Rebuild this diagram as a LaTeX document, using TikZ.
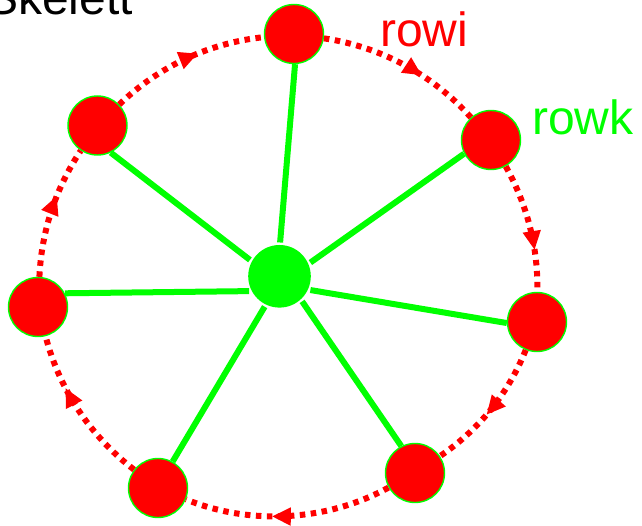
\documentclass[tikz,border=0pt]{standalone}
\usepackage{fontspec}
\setmainfont{Liberation Sans}
\usetikzlibrary{arrows.meta,decorations.markings}
\definecolor{pr}{RGB}{255,0,0}
\definecolor{pg}{RGB}{0,255,0}
\begin{document}
\begin{tikzpicture}[x=1pt,y=1pt,
 outer/.style={circle,fill=pr,draw=pg,line width=1.4pt,minimum size=59pt,inner sep=0pt},
 hub/.style={circle,fill=pg,minimum size=62.6pt,inner sep=0pt,outer sep=2.5pt},
 spoke/.style={draw=pg,line width=6pt},
 ring/.style={draw=pr,line width=6pt,dash pattern=on 5.5pt off 5.5pt,looseness=0.88,postaction={decorate},
   decoration={markings,mark=at position #1 with {\arrow[pr]{Triangle[length=19pt,width=17pt]}}}},
 ring/.default=0.6,
 lbl/.style={anchor=base west,inner sep=0pt,font=\fontsize{48}{48}\selectfont}]
\useasboundingbox (0,0) rectangle (642,-526);
\node[outer] (t) at (294,-34) {};
\node[outer] (ur) at (491,-140) {};
\node[outer] (r) at (537,-322) {};
\node[outer] (lr) at (415,-473) {};
\node[outer] (bl) at (158,-488) {};
\node[outer] (l) at (38,-307) {};
\node[outer] (ul) at (97.5,-125.5) {};
\node[hub] (c) at (279.5,-276.3) {};
\draw[ring=0.62] (t) to[bend left=20] (ur);
\draw[ring=0.68] (ur) to[bend left=15] (r);
\draw[ring=0.55] (r) to[bend left=17] (lr);
\draw[ring=0.58] (lr) to[bend left=25.5] (bl);
\draw[ring=0.66] (bl) to[bend left=19] (l);
\draw[ring=0.62] (l) to[bend left=15.5] (ul);
\draw[ring=0.58] (ul) to[bend left=19] (t);
\draw[spoke] (c.89) -- (t.272);
\draw[spoke] (c.151) -- (ul.296);
\draw[spoke] (c.206) -- (l.27);
\draw[spoke] (c.244) -- (bl.61);
\draw[spoke] (c.312) -- (lr.117);
\draw[spoke] (c.336) -- (r.182);
\draw[spoke] (c.24) -- (ur.207);
\node[lbl] (sk) at (-14,-15) {Skelett};
\node[lbl,text=pr] (ri) at (380,-47) {rowi};
\node[lbl,text=pg] (rk) at (532,-135) {rowk};
\end{tikzpicture}
\end{document}
